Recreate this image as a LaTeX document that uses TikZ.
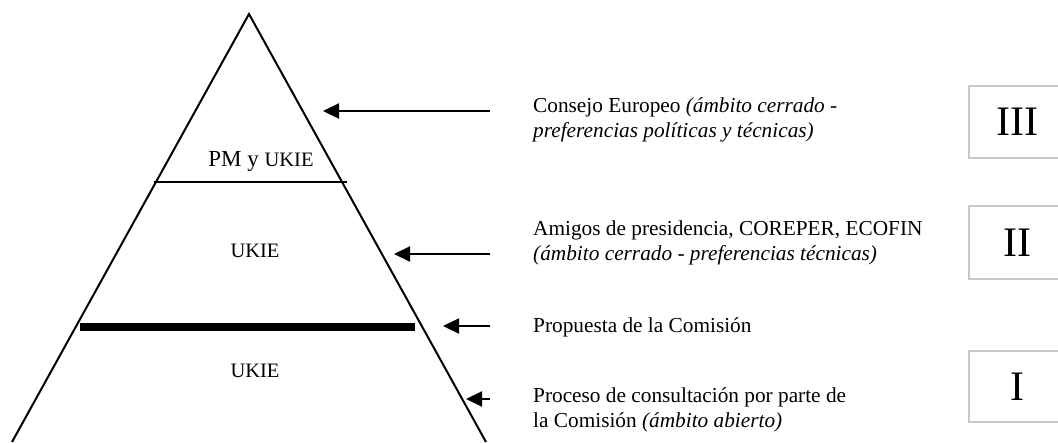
\documentclass[tikz,border=0pt]{standalone}
\usepackage{fontspec}
\setmainfont{Liberation Serif}
\usepackage{xcolor}
\definecolor{boxgray}{RGB}{200,200,200}
\usetikzlibrary{arrows.meta}
\tikzset{
  lbl/.style={font=\fontsize{21.3}{24.5}\selectfont,align=left,anchor=base west,inner sep=0pt},
  ukie/.style={font=\fontsize{20.5}{24}\selectfont,anchor=base,inner sep=0pt},
  level/.style={draw=boxgray,line width=2pt,minimum width=96pt,font=\fontsize{42}{42}\selectfont},
  ptr/.style={-{Triangle[length=16pt,width=15pt]},line width=2.2pt},
}

\begin{document}
\begin{tikzpicture}[x=1pt,y=-1pt]
\useasboundingbox (0,0) rectangle (1058,442);
\clip (0,0) rectangle (1058,442);
% pyramid
\coordinate (apex) at (249,14);
\coordinate (bl) at (12,442);
\coordinate (br) at (486,442);
\draw[line width=2pt] (bl) -- (apex) -- (br);
\draw[line width=1.8pt] (154,182) -- (347,182);
\draw[line width=8pt] (80,327) -- (415,327);
\node[font=\fontsize{23}{26}\selectfont,anchor=base,inner sep=0pt] (pm) at (261,166) {PM y {\fontsize{20.5}{24}\selectfont UKIE}};
\node[ukie] (ukiemid) at (255,257) {UKIE};
\node[ukie] (ukielow) at (255,377) {UKIE};
% labels (base = last line)
\node[lbl] (consejo) at (533,137) {Consejo Europeo \textit{(ámbito cerrado -}\\\textit{preferencias políticas y técnicas)}};
\node[lbl] (amigos) at (533,260) {Amigos de presidencia, COREPER, ECOFIN\\\textit{(ámbito cerrado - preferencias técnicas)}};
\node[lbl] (propuesta) at (533,332) {Propuesta de la Comisión};
\node[lbl] (proceso) at (533,427) {Proceso de consultación por parte de\\la Comisión \textit{(ámbito abierto)}};
% arrows
\coordinate (s1) at (490,111); \coordinate (t1) at (323,111);
\coordinate (s2) at (490,254); \coordinate (t2) at (394,254);
\coordinate (s3) at (490,326); \coordinate (t3) at (443,326);
\coordinate (s4) at (490,399); \coordinate (t4) at (466,399);
\draw[ptr] (s1) -- (t1);
\draw[ptr] (s2) -- (t2);
\draw[ptr] (s3) -- (t3);
\draw[ptr] (s4) -- (t4);
% levels
\node[level,minimum height=72pt] (lvIII) at (1017,122) {III};
\node[level,minimum height=73pt] (lvII) at (1017,242.5) {II};
\node[level,minimum height=71pt] (lvI) at (1017,386.5) {I};
\end{tikzpicture}
\end{document}
